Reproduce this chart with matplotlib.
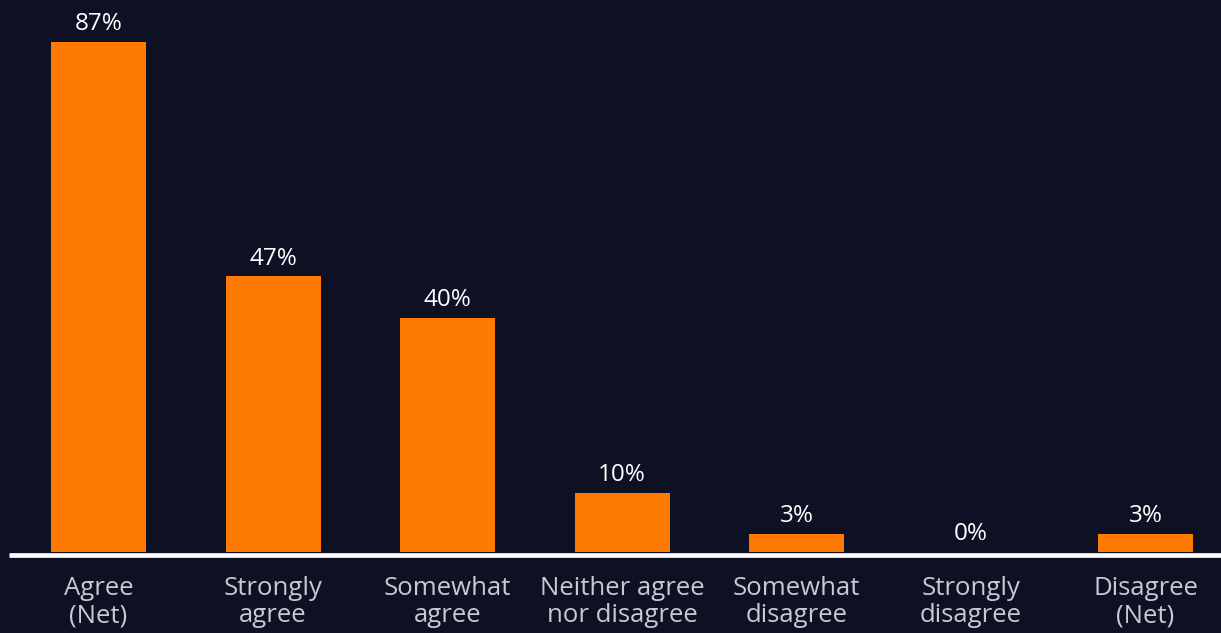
import matplotlib
matplotlib.use("Agg")
import matplotlib.pyplot as plt
import matplotlib.transforms as mtransforms

categories = ["Agree\n(Net)", "Strongly\nagree", "Somewhat\nagree",
              "Neither agree\nnor disagree", "Somewhat\ndisagree",
              "Strongly\ndisagree", "Disagree\n(Net)"]
values = [87, 47, 40, 10, 3, 0, 3]
value_labels = ["87%", "47%", "40%", "10%", "3%", "0%", "3%"]

BG = "#0e1024"
BAR = "#ff7a00"
TEXT = "#ffffff"
TICK = "#c9c9cf"

plt.rcParams["font.family"] = ["Open Sans", "DejaVu Sans"]

W, H, DPI = 1221, 633, 100
fig = plt.figure(figsize=(W / DPI, H / DPI), dpi=DPI, facecolor=BG)
ax = fig.add_axes([0, 0, 1, 1])
ax.set_facecolor(BG)
for s in ax.spines.values():
    s.set_visible(False)
ax.set_xticks([])
ax.set_yticks([])

# pixel geometry of the plotting area
step_px = 174.5
first_px = 98.5
base_px = 552          # baseline, pixels from top
top_px = 42            # top of the tallest bar
scale = (base_px - top_px) / max(values)   # px per percentage point

x = list(range(len(values)))
ax.set_xlim(-first_px / step_px, (W - first_px) / step_px)
ax.set_ylim(-(H - base_px) / scale, base_px / scale)

ax.bar(x, values, width=95 / step_px, color=BAR, zorder=2)

# white baseline
ax.plot([(9 - first_px) / step_px, (W - first_px) / step_px],
        [-2.5 / scale, -2.5 / scale], color="#ffffff", lw=3.4,
        solid_capstyle="butt", zorder=3)

# value labels above bars
for xi, v, lab in zip(x, values, value_labels):
    ax.annotate(lab, (xi, v), xytext=(0, 8.6), textcoords="offset points",
                ha="center", va="baseline", color=TEXT, fontsize=17.5)

# category labels below the baseline
trans = mtransforms.blended_transform_factory(ax.transData, fig.transFigure)
for xi, cat in zip(x, categories):
    ax.text(xi, 1 - 576 / H, cat, transform=trans, ha="center", va="top",
            color=TICK, fontsize=18.5, linespacing=1.13)

fig.savefig("out.png", dpi=DPI, facecolor=BG)
